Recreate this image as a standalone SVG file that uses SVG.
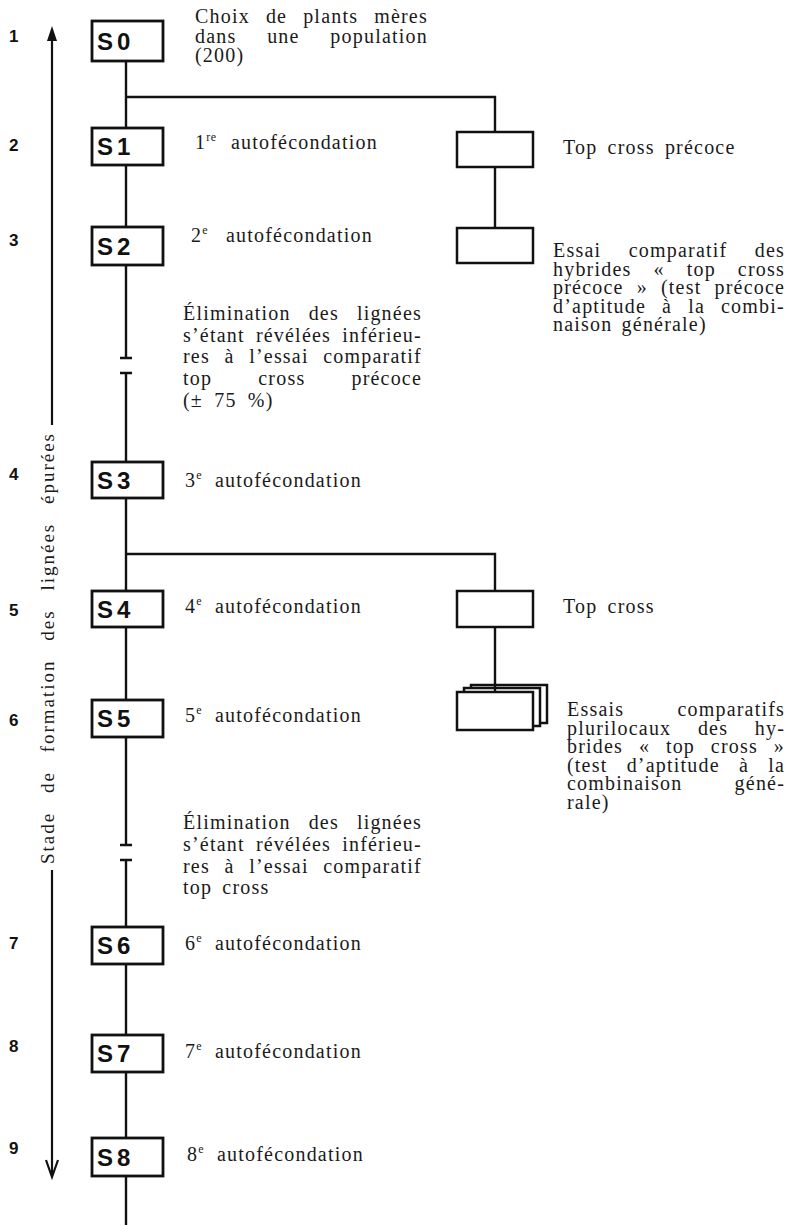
<svg xmlns="http://www.w3.org/2000/svg" width="802" height="1225" viewBox="0 0 802 1225">
<style>
.t{font-family:"Liberation Serif",serif;font-size:20px;letter-spacing:1.2px;fill:#1a1a1a}
.sup{font-size:12px;letter-spacing:0.5px}
.lbl{font-family:"Liberation Sans",sans-serif;font-weight:bold;font-size:24px;letter-spacing:4px;fill:#111}
.num{font-family:"Liberation Sans",sans-serif;font-weight:bold;font-size:17px;fill:#111}
.box{fill:#fff;stroke:#111;stroke-width:2.8}
.rbox{fill:#fff;stroke:#111;stroke-width:2.5}
.ln{fill:none;stroke:#111;stroke-width:2.4}
.ax{fill:none;stroke:#111;stroke-width:2.2}
</style>
<rect width="802" height="1225" fill="#fff"/>

<g id="axis">
<path class="ax" d="M52 36 V425 M52 870 V1174"/>
<polygon points="52,26 47,41 57,41" fill="#111"/>
<path class="ax" d="M46 1160 L52 1177 L58 1160"/>
<text class="t" transform="translate(54,648) rotate(-90)" text-anchor="middle" style="font-size:19px;letter-spacing:2px;word-spacing:12px">Stade de formation des lignées épurées</text>
</g>

<g id="numbers">
<text class="num" x="9" y="42">1</text>
<text class="num" x="9" y="151">2</text>
<text class="num" x="9" y="246">3</text>
<text class="num" x="9" y="480">4</text>
<text class="num" x="9" y="616">5</text>
<text class="num" x="9" y="726">6</text>
<text class="num" x="9" y="949">7</text>
<text class="num" x="9" y="1052">8</text>
<text class="num" x="9" y="1154">9</text>
</g>

<g id="connectors">
<path class="ln" d="M126 61 V128 M126 97 H495 V132 M495 167 V228 M126 165 V227"/>
<path class="ln" d="M126 265 V358 M120 358 H132 M120 373 H132 M126 373 V462"/>
<path class="ln" d="M126 498 V591 M126 554 H495 V591 M126 627 V700"/>
<path class="ln" d="M126 737 V845 M120 845 H132 M120 860 H132 M126 860 V927"/>
<path class="ln" d="M126 964 V1035 M126 1072 V1138 M126 1176 V1225"/>
</g>

<g id="S0">
<rect class="box" x="92" y="21" width="71" height="40"/>
<text class="lbl" x="97" y="50">S0</text>
<text class="t" x="195" y="23" style="word-spacing:9.8px">Choix de plants mères</text>
<text class="t" x="195" y="43" style="word-spacing:24.5px">dans une population</text>
<text class="t" x="195" y="62">(200)</text>
</g>

<g id="S1">
<rect class="box" x="92" y="128" width="71" height="37"/>
<text class="lbl" x="97" y="155">S1</text>
<text class="t" x="195" y="149">1<tspan class="sup" dy="-8">re</tspan><tspan x="231" dy="8">autofécondation</tspan></text>
</g>

<g id="S2">
<rect class="box" x="92" y="227" width="71" height="38"/>
<text class="lbl" x="97" y="255">S2</text>
<text class="t" x="191" y="242">2<tspan class="sup" dy="-8">e</tspan><tspan x="226" dy="8">autofécondation</tspan></text>
</g>

<g id="elim1">
<text class="t" x="183" y="320" style="word-spacing:11.8px">Élimination des lignées</text>
<text class="t" x="183" y="342" style="word-spacing:5px">s’étant révélées inférieu-</text>
<text class="t" x="183" y="363" style="word-spacing:8.4px">res à l’essai comparatif</text>
<text class="t" x="183" y="385" style="word-spacing:39.9px">top cross précoce</text>
<text class="t" x="183" y="407" style="word-spacing:5px">(± 75 %)</text>
</g>

<g id="S3">
<rect class="box" x="92" y="462" width="71" height="36"/>
<text class="lbl" x="97" y="489">S3</text>
<text class="t" x="185" y="487">3<tspan class="sup" dy="-8">e</tspan><tspan x="215" dy="8">autofécondation</tspan></text>
</g>

<g id="S4">
<rect class="box" x="92" y="591" width="71" height="36"/>
<text class="lbl" x="97" y="618">S4</text>
<text class="t" x="185" y="613">4<tspan class="sup" dy="-8">e</tspan><tspan x="215" dy="8">autofécondation</tspan></text>
</g>

<g id="S5">
<rect class="box" x="92" y="700" width="71" height="37"/>
<text class="lbl" x="97" y="727">S5</text>
<text class="t" x="185" y="722">5<tspan class="sup" dy="-8">e</tspan><tspan x="215" dy="8">autofécondation</tspan></text>
</g>

<g id="elim2">
<text class="t" x="183" y="829" style="word-spacing:11.8px">Élimination des lignées</text>
<text class="t" x="183" y="851" style="word-spacing:5px">s’étant révélées inférieu-</text>
<text class="t" x="183" y="873" style="word-spacing:8.4px">res à l’essai comparatif</text>
<text class="t" x="183" y="894" style="word-spacing:4px">top cross</text>
</g>

<g id="S6">
<rect class="box" x="92" y="927" width="71" height="37"/>
<text class="lbl" x="97" y="954">S6</text>
<text class="t" x="185" y="950">6<tspan class="sup" dy="-8">e</tspan><tspan x="215" dy="8">autofécondation</tspan></text>
</g>

<g id="S7">
<rect class="box" x="92" y="1035" width="71" height="37"/>
<text class="lbl" x="97" y="1062">S7</text>
<text class="t" x="185" y="1058">7<tspan class="sup" dy="-8">e</tspan><tspan x="215" dy="8">autofécondation</tspan></text>
</g>

<g id="S8">
<rect class="box" x="92" y="1138" width="71" height="38"/>
<text class="lbl" x="97" y="1166">S8</text>
<text class="t" x="187" y="1161">8<tspan class="sup" dy="-8">e</tspan><tspan x="217" dy="8">autofécondation</tspan></text>
</g>

<g id="topcross-precoce">
<rect class="rbox" x="457" y="132" width="76" height="35"/>
<text class="t" x="563" y="154" style="word-spacing:4px">Top cross précoce</text>
</g>

<g id="essai-precoce">
<rect class="rbox" x="457" y="228" width="76" height="35"/>
<text class="t" x="553" y="257" style="word-spacing:21.3px">Essai comparatif des</text>
<text class="t" x="553" y="275.5" style="word-spacing:15.8px">hybrides « top cross</text>
<text class="t" x="553" y="294" style="word-spacing:6.9px">précoce » (test précoce</text>
<text class="t" x="553" y="312.5" style="word-spacing:9.8px">d’aptitude à la combi-</text>
<text class="t" x="553" y="331" style="word-spacing:3px">naison générale)</text>
</g>

<g id="topcross">
<rect class="rbox" x="457" y="591" width="76" height="36"/>
<text class="t" x="563" y="613" style="word-spacing:4px">Top cross</text>
</g>

<g id="essais-plurilocaux">
<rect class="rbox" x="471" y="685" width="76" height="38"/>
<rect class="rbox" x="464" y="688" width="76" height="38"/>
<rect class="rbox" x="457" y="692" width="76" height="38"/>
<path class="ln" d="M495 627 V692"/>
<text class="t" x="567" y="716" style="word-spacing:47px">Essais comparatifs</text>
<text class="t" x="567" y="734.5" style="word-spacing:20.4px">plurilocaux des hy-</text>
<text class="t" x="567" y="753" style="word-spacing:9.6px">brides « top cross »</text>
<text class="t" x="567" y="771.5" style="word-spacing:13px">(test d’aptitude à la</text>
<text class="t" x="567" y="790" style="word-spacing:46px">combinaison géné-</text>
<text class="t" x="567" y="808.5">rale)</text>
</g>
</svg>
